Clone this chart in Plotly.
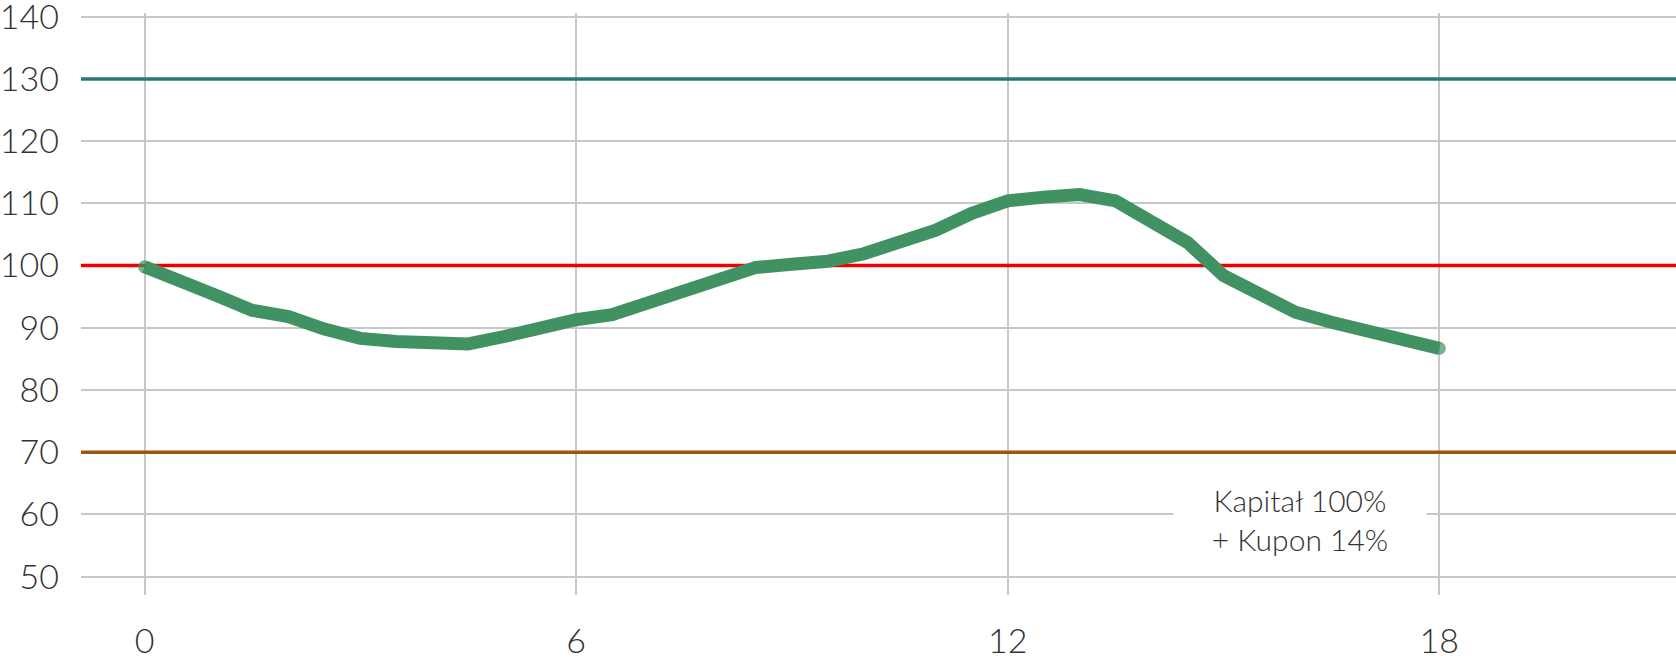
import plotly.graph_objects as go

# Data
months = [0, 0.5, 1, 1.5, 2, 2.5, 3, 3.5, 4, 4.5, 5, 5.5, 6, 6.5, 7, 7.5, 8, 8.5, 9,
          9.5, 10, 10.5, 11, 11.5, 12, 12.5, 13, 13.5, 14, 14.5, 15, 15.5, 16, 16.5,
          17, 17.5, 18]
values = [99.8, 97.7, 95.2, 92.8, 91.8, 89.8, 88.3, 87.8, 87.4, 87.4, 88.6, 90.0,
          91.3, 92.1, 94.1, 96.0, 98.2, 99.7, 100.2, 100.7, 101.9, 103.8, 105.7,
          108.4, 110.4, 111.0, 111.4, 110.4, 107.2, 103.7, 98.4, 95.5, 92.5, 90.9,
          89.4, 88.0, 86.7]
ref_levels = [130, 100, 70]
ref_colors = ["#2b7870", "#ee0000", "#9c560e"]
x_ticks = [0, 6, 12, 18]
y_ticks = [50, 60, 70, 80, 90, 100, 110, 120, 130, 140]
note_text = "Kapitał 100%<br>+ Kupon 14%"

FONT = "Lato"
GREEN = "#419262"
X_RANGE = [-0.883, 21.29]
Y_RANGE = [47.06, 140.59]

fig = go.Figure()

# Reference levels (drawn as traces so they sit above the gridlines, below the series)
for lvl, col in zip(ref_levels, ref_colors):
    fig.add_trace(go.Scatter(
        x=X_RANGE, y=[lvl, lvl], mode="lines",
        line=dict(color=col, width=3.5),
        hoverinfo="skip", showlegend=False,
    ))

marker_sizes = [13 if i in (0, len(values) - 1) else 0 for i in range(len(values))]
fig.add_trace(go.Scatter(
    x=months, y=values, mode="lines+markers",
    line=dict(color=GREEN, width=13),
    marker=dict(color=GREEN, size=marker_sizes, line=dict(width=0)),
    hoverinfo="skip", showlegend=False, cliponaxis=False,
))

fig.update_layout(
    width=1676, height=659,
    margin=dict(l=81, r=0, t=13, b=64),
    paper_bgcolor="white", plot_bgcolor="white",
    font=dict(family=FONT, color="#333333"),
    xaxis=dict(
        range=X_RANGE, tickvals=x_ticks, ticktext=[str(v) for v in x_ticks],
        showgrid=True, gridcolor="#c8c8c8", gridwidth=2, zeroline=False,
        showline=False, ticks="", ticklabelstandoff=23, automargin=False,
        ticklabeloverflow="allow",
        tickfont=dict(family=FONT, size=34, color="#333333", weight=300),
    ),
    yaxis=dict(
        range=Y_RANGE, tickvals=y_ticks, ticktext=[str(v) for v in y_ticks],
        showgrid=True, gridcolor="#c8c8c8", gridwidth=2, zeroline=False,
        showline=False, ticks="", ticklabelstandoff=21, automargin=False,
        ticklabeloverflow="allow",
        tickfont=dict(family=FONT, size=34, color="#333333", weight=300),
    ),
    annotations=[dict(
        x=16.06, y=59.2, xref="x", yref="y", text=note_text, showarrow=False,
        align="center", width=252, height=88, bgcolor="white", borderpad=0,
        font=dict(family=FONT, size=30, color="#333333", weight=300),
    )],
)

fig.write_html("out.html", config={"displayModeBar": False},
               post_script="document.body.style.margin='0';")
